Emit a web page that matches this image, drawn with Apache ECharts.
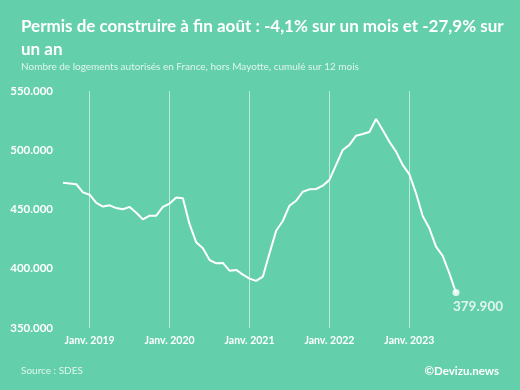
<!DOCTYPE html>
<html>
<head>
<meta charset="utf-8">
<script src="https://cdn.jsdelivr.net/npm/echarts@6/dist/echarts.min.js"></script>
<style>
html,body{margin:0;padding:0;background:#64CFAB;}
#c{width:520px;height:390px;}
</style>
</head>
<body>
<div id="c"></div>
<script>
// Months Sep 2018 .. Aug 2023
const monthNames = ["Janv.","Févr.","Mars","Avr.","Mai","Juin","Juil.","Août","Sept.","Oct.","Nov.","Déc."];
const categories = [];
for (let y = 2018, m = 8; !(y === 2023 && m === 8); ) {
  categories.push(monthNames[m] + " " + y);
  m++; if (m === 12) { m = 0; y++; }
}
// Logements autorisés, cumul 12 mois
const values = [
  472600, 472000, 471300, 464500,
  462500, 455500, 452500, 453500, 451200, 450200, 452200, 447300, 441700, 444800, 444800, 452200,
  455000, 460200, 459500, 437600, 422300, 417300, 407400, 404600, 404900, 398400, 399000, 395000,
  391700, 389800, 393300, 413000, 432100, 440300, 453200, 457400, 465000, 467000, 467300, 470100,
  475000, 487600, 500200, 504500, 512300, 513700, 515400, 526400, 517100, 507200, 498800, 487600,
  479700, 463700, 444500, 434100, 418600, 410800, 396200, 379900
];
const yTicks = [350000, 550000, 50000];

const fmt = v => String(Math.round(v)).replace(/\B(?=(\d{3})+(?!\d))/g, ".");
const isJan = (i) => categories[i].indexOf("Janv.") === 0;

const chart = echarts.init(document.getElementById('c'));
const lastIdx = values.length - 1;
chart.setOption({
  backgroundColor: '#64CFAB',
  animation: false,
  textStyle: {fontFamily: 'Lato'},
  title: [
    {text: 'Permis de construire à fin août : -4,1% sur un mois et -27,9% sur\nun an',
     left: 16, top: 10,
     textStyle: {color: '#fff', fontSize: 17, fontWeight: 'bold', fontFamily: 'Lato', lineHeight: 23}},
    {text: 'Nombre de logements autorisés en France, hors Mayotte, cumulé sur 12 mois',
     left: 16, top: 57,
     textStyle: {color: 'rgba(255,255,255,0.8)', fontSize: 10, fontWeight: 'normal', fontFamily: 'Lato'}},
    {text: 'Source : SDES', left: 16, top: 361,
     textStyle: {color: 'rgba(255,255,255,0.8)', fontSize: 10, fontWeight: 'normal', fontFamily: 'Lato'}},
    {text: '©Devizu.news', right: 16, top: 360,
     textStyle: {color: '#fff', fontSize: 11.5, fontWeight: 'bold', fontFamily: 'Lato'}}
  ],
  grid: {left: 63, right: 64, top: 91, bottom: 62},
  xAxis: {
    type: 'category',
    data: categories,
    boundaryGap: false,
    axisLine: {show: false},
    axisTick: {show: false},
    axisLabel: {
      interval: (i) => isJan(i),
      color: '#fff', fontWeight: 'bold', fontSize: 10.5, margin: 7,
      formatter: v => v
    },
    splitLine: {
      show: true,
      interval: (i) => isJan(i),
      lineStyle: {color: 'rgba(255,255,255,0.55)', width: 1}
    }
  },
  yAxis: {
    type: 'value',
    min: yTicks[0], max: yTicks[1], interval: yTicks[2],
    axisLine: {show: false},
    axisTick: {show: false},
    splitLine: {show: false},
    axisLabel: {color: '#fff', fontWeight: 'bold', fontSize: 11.5, margin: 10, formatter: fmt}
  },
  series: [{
    type: 'line',
    data: values,
    showSymbol: false,
    symbol: 'none',
    lineStyle: {color: '#fff', width: 2},
    silent: true
  }, {
    type: 'scatter',
    data: [[categories[lastIdx], values[lastIdx]]],
    symbol: 'circle',
    symbolSize: 7,
    itemStyle: {color: '#fff'},
    label: {show: true, position: 'bottom', distance: 4, offset: [22, 0],
            color: '#fff', fontWeight: 700, fontFamily: 'Lato', fontSize: 13.5,
            formatter: p => fmt(p.value[1])},
    silent: true
  }]
});
</script>
</body>
</html>
